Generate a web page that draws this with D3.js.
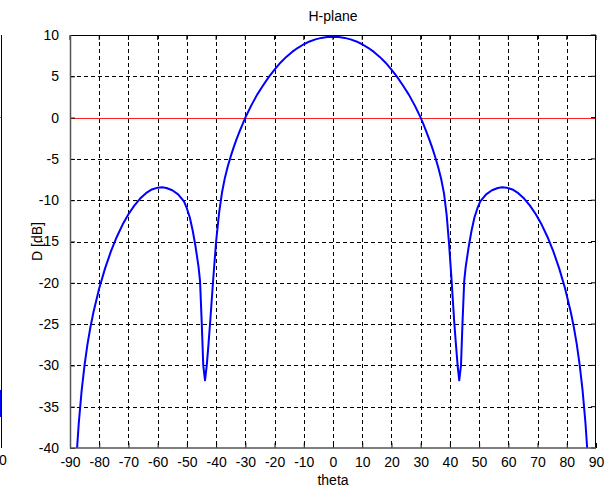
<!DOCTYPE html>
<html>
<head>
<meta charset="utf-8">
<script src="https://cdn.jsdelivr.net/npm/d3@7"></script>
<style>
  body { margin: 0; background: #fff; }
  text { font-family: "Liberation Sans", Arial, sans-serif; font-size: 14px; fill: #000; }
</style>
</head>
<body>
<script>
// Values (theta in degrees, D in dB)

var theta = [-89, -88, -87.5, -87, -86, -85, -84, -83, -82, -80, -78, -76, -74, -72, -70, -68, -66, -64, -62, -60, -58.5, -57, -55, -53, -51, -50, -49, -48, -47, -46, -45.5, -44.9, -44.4, -43.8, -43.2, -42.6, -42, -41, -40, -39, -38, -37, -36, -35, -34, -33, -32, -31,
  -30, -28, -26, -24, -22, -20, -18, -16, -14, -12, -10, -8, -6, -4, -2, 0, 2, 4, 6, 8, 10, 12, 14, 16, 18, 20, 22, 24, 26, 28,
  30, 31, 32, 33, 34, 35, 36, 37, 38, 38.9, 39.7, 40.6, 41.5, 42.1, 42.7, 43.2, 43.8, 44.3, 44.9, 45.4, 46.4, 47.4, 48.4, 49.4, 50.4, 52.4, 54.4, 56.4, 57.9, 59.4, 61.4, 63.4, 65.4, 67.4, 69.4, 71.4, 73.4, 75.4, 77.4, 79.4, 81.4, 82.4, 83.4, 84.4, 85.4, 86.4, 86.9, 87.4, 88.4];

var dB = [-51, -42.5, -39.6, -37.0, -33.0, -29.9, -27.4, -25.35, -23.6, -20.65, -18.25, -16.2, -14.45, -12.95, -11.7, -10.65, -9.8, -9.15, -8.7, -8.48, -8.44, -8.52, -8.8, -9.3, -10.15, -11.0, -12.1, -13.7, -15.7, -18.1, -19.8, -25, -30, -31.8, -30, -27.4, -24.6, -19.6, -15.0, -11.6, -9.1, -7.3, -5.9, -4.7, -3.6, -2.6, -1.7, -0.85,
  0, 1.45, 2.75, 3.85, 4.9, 5.82, 6.65, 7.35, 7.95, 8.45, 8.88, 9.22, 9.47, 9.65, 9.76, 9.8, 9.76, 9.65, 9.47, 9.22, 8.88, 8.45, 7.95, 7.35, 6.65, 5.82, 4.9, 3.85, 2.75, 1.45,
  0, -0.85, -1.75, -2.7, -3.7, -4.8, -6.0, -7.4, -9.2, -11.8, -15.2, -19.8, -24.8, -27.6, -30.2, -31.8, -30.0, -25.0, -19.8, -18.1, -15.7, -13.7, -12.1, -11.0, -10.15, -9.3, -8.8, -8.52, -8.44, -8.48, -8.7, -9.15, -9.8, -10.65, -11.7, -12.95, -14.45, -16.2, -18.25, -20.65, -23.6, -25.35, -27.4, -29.9, -33.0, -37.0, -39.6, -42.5, -51];

var xTicks = [-90, -80, -70, -60, -50, -40, -30, -20, -10, 0, 10, 20, 30, 40, 50, 60, 70, 80, 90];
var yTicks = [10, 5, 0, -5, -10, -15, -20, -25, -30, -35, -40];

var margin = {top: 35, right: 10, bottom: 41, left: 70},
    width = 606 - margin.left - margin.right,
    height = 489 - margin.top - margin.bottom;

var svg = d3.select("body")
    .append("svg")
    .attr("width", 606)
    .attr("height", 489);

// bit of the neighbouring subplot cut off at the left edge
var edge = svg.append("g");
edge.append("line").attr("x1", 1.5).attr("x2", 1.5).attr("y1", 35).attr("y2", 448)
    .attr("stroke", "#000").attr("stroke-width", 1);
edge.append("line").attr("x1", 0).attr("x2", 1).attr("y1", 117.5).attr("y2", 117.5)
    .attr("stroke", "#f33").attr("stroke-width", 1);
edge.append("line").attr("x1", 0.5).attr("x2", 0.5).attr("y1", 390).attr("y2", 417)
    .attr("stroke", "#00f").attr("stroke-width", 1);
edge.append("text").attr("x", -1).attr("y", 465).text("0");

var g = svg.append("g")
    .attr("transform", "translate(" + margin.left + "," + margin.top + ")");

var xScale = d3.scaleLinear().domain([-90, 90]).range([0, width]),
    yScale = d3.scaleLinear().domain([-40, 10]).range([height, 0]);

// dashed grid
g.append("g")
    .selectAll("line")
    .data(xTicks.slice(1, -1))
    .enter().append("line")
      .attr("x1", function(d) { return Math.round(xScale(d)) + 0.5; })
      .attr("x2", function(d) { return Math.round(xScale(d)) + 0.5; })
      .attr("y1", 0).attr("y2", height)
      .attr("stroke", "#000").attr("stroke-dasharray", "4,3");

g.append("g")
    .selectAll("line")
    .data(yTicks.slice(1, -1))
    .enter().append("line")
      .attr("x1", 0).attr("x2", width)
      .attr("y1", function(d) { return Math.round(yScale(d)) + 0.5; })
      .attr("y2", function(d) { return Math.round(yScale(d)) + 0.5; })
      .attr("stroke", "#000").attr("stroke-dasharray", "4,3");

// 0 dB reference line
g.append("line")
    .attr("x1", 0).attr("x2", width)
    .attr("y1", Math.round(yScale(0)) + 0.5).attr("y2", Math.round(yScale(0)) + 0.5)
    .attr("stroke", "#f22").attr("stroke-width", 1);

// pattern curve
g.append("clipPath").attr("id", "clip")
  .append("rect").attr("width", width).attr("height", height);

var line = d3.line()
    .x(function(d) { return xScale(d[0]); })
    .y(function(d) { return yScale(d[1]); });

g.append("path")
    .datum(d3.zip(theta, dB))
    .attr("clip-path", "url(#clip)")
    .attr("d", line)
    .attr("fill", "none")
    .attr("stroke", "#0000ff")
    .attr("stroke-width", 2)
    .attr("stroke-linejoin", "round");

// axes (ticks inside, like matlab)
var fmt = function(d) { return String(d); };
var xAxis = d3.axisBottom(xScale).tickValues(xTicks).tickFormat(fmt).tickSize(-5).tickPadding(9);
var yAxis = d3.axisLeft(yScale).tickValues(yTicks).tickFormat(fmt).tickSize(-5).tickPadding(11);

var gx = g.append("g")
    .attr("transform", "translate(0," + height + ")")
    .call(xAxis);
var gy = g.append("g").call(yAxis);

[gx, gy].forEach(function(a) {
  a.select(".domain").remove();
  a.selectAll("line").attr("stroke", "#000");
  a.selectAll("text").attr("font-size", 14).attr("font-family", "Liberation Sans, Arial, sans-serif");
});

// top & right ticks
g.append("g").selectAll("line").data(xTicks).enter().append("line")
    .attr("x1", function(d) { return xScale(d); }).attr("x2", function(d) { return xScale(d); })
    .attr("y1", 0).attr("y2", 5).attr("stroke", "#000");
g.append("g").selectAll("line").data(yTicks).enter().append("line")
    .attr("x1", width).attr("x2", width - 5)
    .attr("y1", function(d) { return yScale(d); }).attr("y2", function(d) { return yScale(d); })
    .attr("stroke", "#000");

// box
g.append("line").attr("x1", 0).attr("x2", width).attr("y1", 0.5).attr("y2", 0.5).attr("stroke", "#000");
g.append("line").attr("x1", width - 0.5).attr("x2", width - 0.5).attr("y1", 0).attr("y2", height).attr("stroke", "#000");
g.append("line").attr("x1", 0.5).attr("x2", 0.5).attr("y1", 0).attr("y2", height + 0.5)
    .attr("stroke", "#555").attr("stroke-width", 1.5);
g.append("line").attr("x1", 0).attr("x2", width).attr("y1", height).attr("y2", height)
    .attr("stroke", "#555").attr("stroke-width", 1.5);

// labels
g.append("text")
    .attr("x", width / 2).attr("y", -14)
    .attr("text-anchor", "middle")
    .style("font-size", "14px")
    .text("H-plane");

g.append("text")
    .attr("x", width / 2).attr("y", height + 37)
    .attr("text-anchor", "middle")
    .style("font-size", "14px")
    .text("theta");

g.append("text")
    .attr("transform", "rotate(-90)")
    .attr("x", -height / 2).attr("y", -28)
    .attr("text-anchor", "middle")
    .style("font-size", "14px")
    .text("D [dB]");
</script>
</body>
</html>
